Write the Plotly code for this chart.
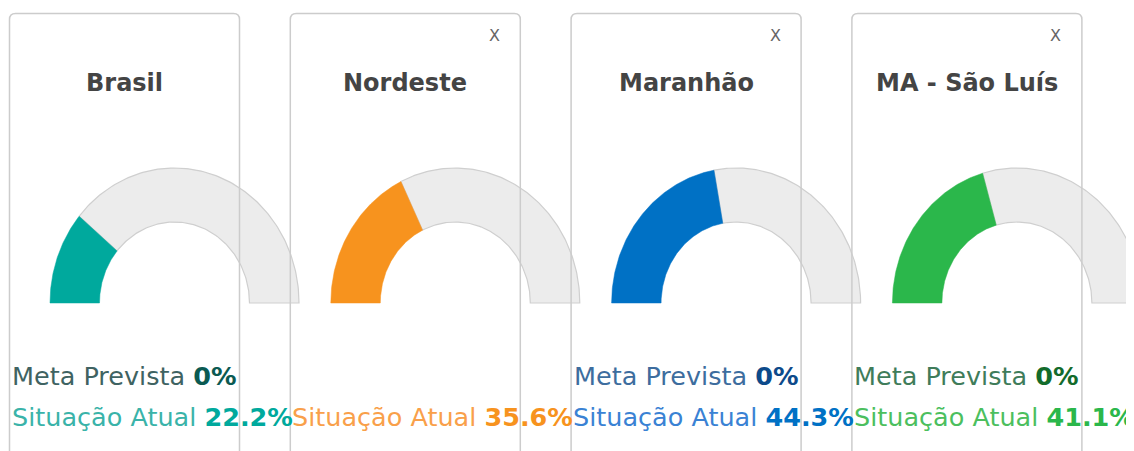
import numpy as np
import plotly.graph_objects as go

# ---- data ----
regions = ["Brasil", "Nordeste", "Maranhão", "MA - São Luís"]
situacao_atual = [22.2, 35.6, 44.3, 41.1]
meta_prevista = [0, None, 0, 0]
closable = [False, True, True, True]

# ---- styles ----
main_colors = ["#00a99d", "#f7931e", "#0071c5", "#2bb74b"]
label_colors = ["#3ab3a9", "#f9a04a", "#3a82d4", "#4cbf5e"]
meta_label_colors = ["#3f6362", None, "#3d6d9e", "#3f7c5a"]
meta_value_colors = ["#0b5a52", None, "#0d4a8a", "#136b2b"]

W, H = 1134, 451
OFF = 8  # browser default body margin
card_left0, card_step, card_w, card_top = 9.5, 280.8, 230, 13.5
gauge_dx, gauge_cy = 165, 303
r_out_x, r_out_y = 124.5, 135
r_in_x, r_in_y = 75, 81
FONT = "DejaVu Sans"
TITLE_FONT = "DejaVu Sans"

fig = go.Figure()


def arc_polygon(cx, cy, a0, a1):
    t = np.radians(np.linspace(a0, a1, 120))
    xo = cx + r_out_x * np.cos(t)
    yo = cy - r_out_y * np.sin(t)
    xi = cx + r_in_x * np.cos(t[::-1])
    yi = cy - r_in_y * np.sin(t[::-1])
    return np.concatenate([xo, xi, xo[:1]]), np.concatenate([yo, yi, yo[:1]])


shapes = []
annotations = []
for i, name in enumerate(regions):
    left = card_left0 + i * card_step
    cx = left + gauge_dx
    v = situacao_atual[i]
    split = 180 - 180 * v / 100.0

    gx, gy = arc_polygon(cx, gauge_cy, split, 0)
    fig.add_trace(go.Scatter(x=gx, y=gy, mode="lines", fill="toself",
                             fillcolor="#ececec",
                             line=dict(color="#cfcfcf", width=1.2),
                             hoverinfo="skip", showlegend=False))
    vx, vy = arc_polygon(cx, gauge_cy, 180, split)
    fig.add_trace(go.Scatter(x=vx, y=vy, mode="lines", fill="toself",
                             fillcolor=main_colors[i],
                             line=dict(color=main_colors[i], width=0.5),
                             hoverinfo="skip", showlegend=False))

    r = 6
    right = left + card_w
    path = (f"M {left},{H + 40} L {left},{card_top + r} "
            f"Q {left},{card_top} {left + r},{card_top} "
            f"L {right - r},{card_top} Q {right},{card_top} {right},{card_top + r} "
            f"L {right},{H + 40}")
    shapes.append(dict(type="path", path=path, xref="x", yref="y",
                       line=dict(color="#cccccc", width=1.5), layer="above"))

    annotations.append(dict(x=left + card_w / 2, y=83, xref="x", yref="y",
                            text=name, showarrow=False, xanchor="center", yanchor="middle",
                            font=dict(family=TITLE_FONT, size=24, color="#444444", weight=600)))
    if closable[i]:
        annotations.append(dict(x=left + 204, y=35, xref="x", yref="y", text="X",
                                showarrow=False, xanchor="center", yanchor="middle",
                                font=dict(family=FONT, size=16, color="#666666")))
    if meta_prevista[i] is not None:
        annotations.append(dict(
            x=left + 0.5, y=376, xref="x", yref="y", showarrow=False,
            xanchor="left", yanchor="middle",
            text=(f"<span style='color:{meta_label_colors[i]}'>Meta Prevista </span>"
                  f"<b><span style='color:{meta_value_colors[i]}'>{meta_prevista[i]}%</span></b>"),
            font=dict(family=FONT, size=25.5)))
    annotations.append(dict(
        x=left, y=417, xref="x", yref="y", showarrow=False,
        xanchor="left", yanchor="middle",
        text=(f"<span style='color:{label_colors[i]}'>Situação Atual </span>"
              f"<b><span style='color:{main_colors[i]}'>{v}%</span></b>"),
        font=dict(family=FONT, size=25.5)))

fig.update_layout(
    width=W, height=H,
    margin=dict(l=0, r=0, t=0, b=0),
    paper_bgcolor="white", plot_bgcolor="white",
    xaxis=dict(range=[OFF, W + OFF], visible=False, fixedrange=True),
    yaxis=dict(range=[H + OFF, OFF], visible=False, fixedrange=True),
    shapes=shapes, annotations=annotations,
    showlegend=False,
)
fig.write_html("out.html", config={"displayModeBar": False})
